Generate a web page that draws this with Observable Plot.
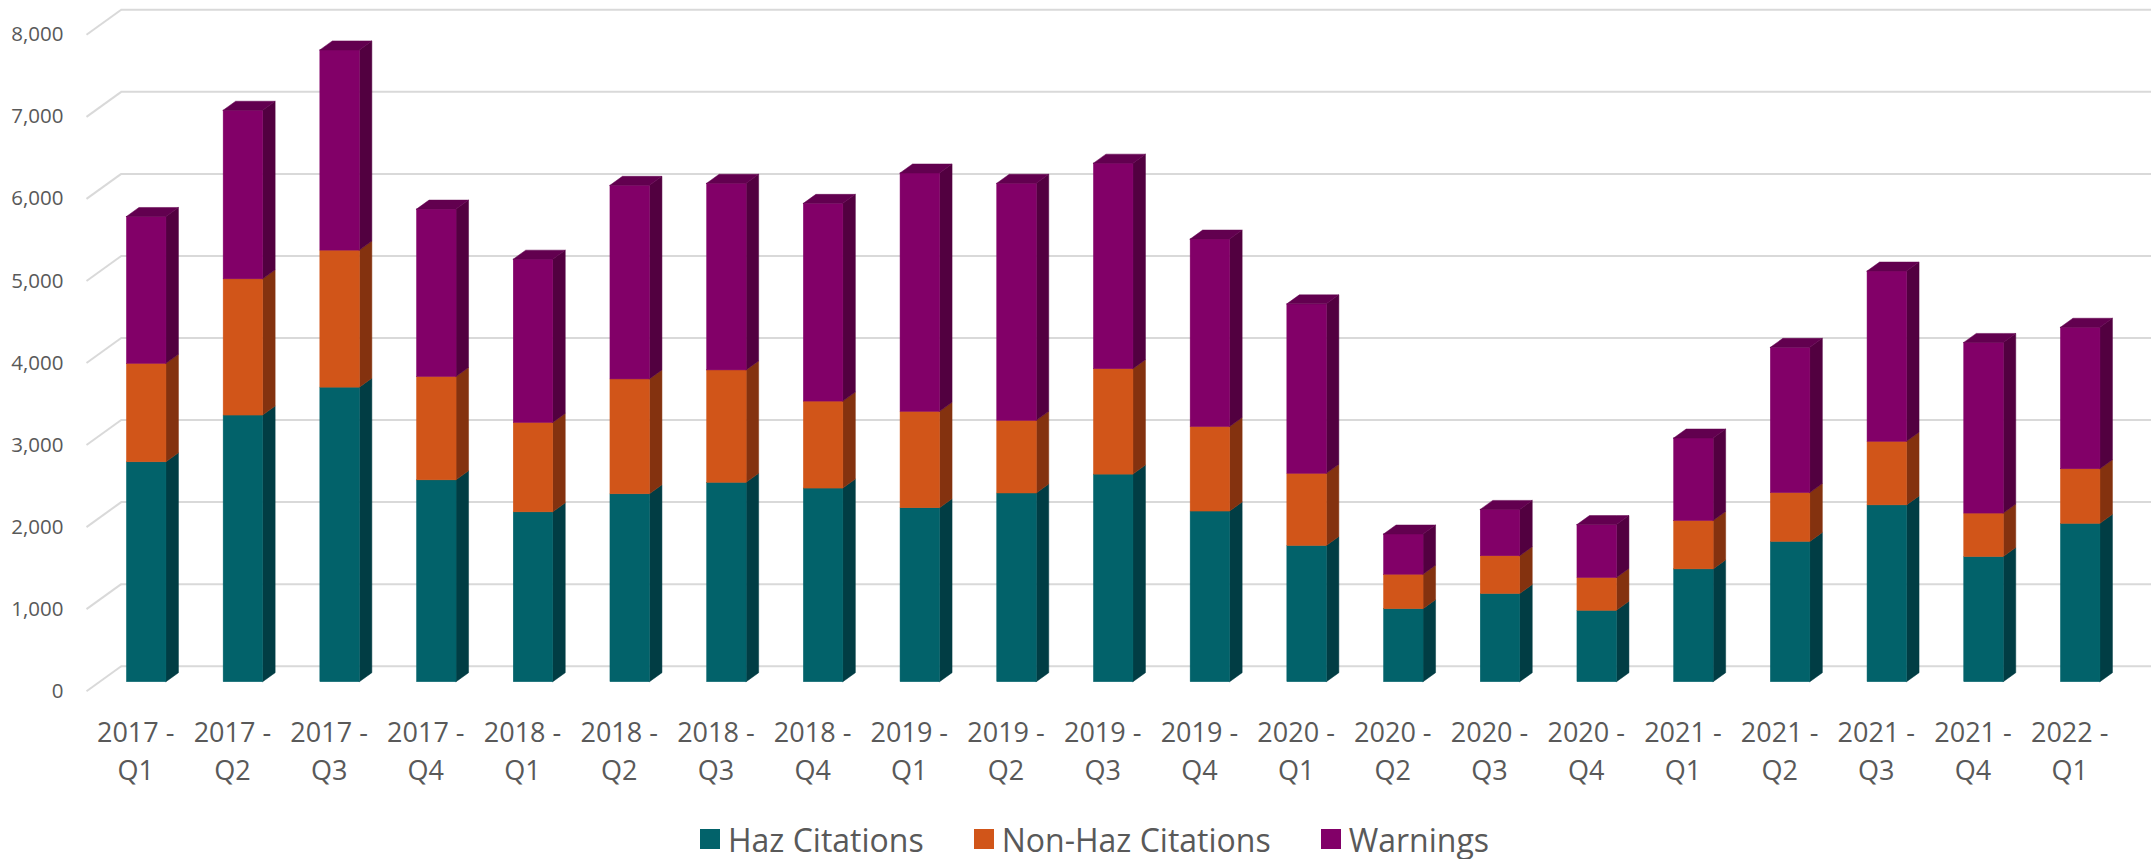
<!DOCTYPE html>
<html><head><meta charset="utf-8">
<script src="https://cdn.jsdelivr.net/npm/d3@7"></script>
<script src="https://cdn.jsdelivr.net/npm/@observablehq/plot@0.6"></script>
<style>
body{margin:0;background:#fff;width:2151px;height:859px;overflow:hidden;position:relative;font-family:"Open Sans",sans-serif}
#chart{position:absolute;left:0;top:0}
#legend{position:absolute;left:0;top:818px;width:2151px;height:42px;display:flex;justify-content:center;align-items:center;padding-left:38px;box-sizing:border-box;gap:50px;color:#595959;font-size:32px}
.item{display:flex;align-items:center;gap:8px;white-space:nowrap}
.sw{width:20px;height:20px;display:inline-block}
</style></head><body>
<div id="chart"></div>
<div id="legend"></div>
<script>
// ---- data ----
const quarters = ["2017 -\nQ1","2017 -\nQ2","2017 -\nQ3","2017 -\nQ4","2018 -\nQ1","2018 -\nQ2","2018 -\nQ3","2018 -\nQ4","2019 -\nQ1","2019 -\nQ2","2019 -\nQ3","2019 -\nQ4","2020 -\nQ1","2020 -\nQ2","2020 -\nQ3","2020 -\nQ4","2021 -\nQ1","2021 -\nQ2","2021 -\nQ3","2021 -\nQ4","2022 -\nQ1"];
const hazCitations    = [2680,3250,3590,2460,2070,2290,2430,2360,2120,2300,2530,2080,1660, 890,1075, 870,1375,1710,2155,1525,1930];
const nonHazCitations = [1200,1660,1670,1260,1090,1400,1370,1060,1175, 885,1285,1030, 880, 420, 460, 400, 590, 595, 775, 530, 665];
const warnings        = [1790,2055,2440,2040,1990,2360,2275,2410,2905,2890,2505,2285,2065, 490, 565, 645,1005,1770,2075,2080,1725];
const seriesNames = ["Haz Citations","Non-Haz Citations","Warnings"];
const yTicks = [0,1000,2000,3000,4000,5000,6000,7000,8000];

// ---- styling ----
const frontColors = ["#02626A","#D15519","#820068"];
const sideColors  = ["#013D44","#84320F","#520040"];
const topColor = "#62004F";
const gridColor = "#D9D9D9";
const textColor = "#595959";

// ---- geometry (oblique 3D look) ----
const W = 2151, H = 800;
const mLeft = 86, mTop = 25.3, mBottom = H - 681.7;
const pxPerX = 96.7;                       // px per category step
const pxPerV = (H - mTop - mBottom) / 8000;  // px per unit
const xMin = -(146.2 - mLeft) / pxPerX;
const xMax = xMin + (W - mLeft) / pxPerX;
const hw = 19.75 / pxPerX;                 // half bar width
const dX = 12.5 / pxPerX, dV = 9 / pxPerV; // bar depth
const backX = xMin + 34.7 / pxPerX, backV = 16 / pxPerV, frontV = 9 / pxPerV;

const series = [hazCitations, nonHazCitations, warnings];
const segs = [];
quarters.forEach((q, i) => {
  let cum = 0;
  series.forEach((arr, s) => {
    segs.push({i, s, y1: cum, y2: cum + arr[i], top: s === series.length - 1});
    cum += arr[i];
  });
});

const marks = [];
// back wall gridlines and floor stubs
marks.push(Plot.ruleY(yTicks, {y: d => d + backV, x1: backX, x2: xMax, stroke: gridColor, strokeWidth: 2}));
marks.push(Plot.link(yTicks, {x1: xMin, y1: d => d - frontV, x2: backX, y2: d => d + backV, stroke: gridColor, strokeWidth: 2}));

series.forEach((arr, s) => {
  const ss = segs.filter(d => d.s === s);
  // side faces
  const side = ss.flatMap(d => [
    {id: d.i, x: d.i + hw, lo: d.y1, hi: d.y2},
    {id: d.i, x: d.i + hw + dX, lo: d.y1 + dV, hi: d.y2 + dV}
  ]);
  marks.push(Plot.areaY(side, {x: "x", y1: "lo", y2: "hi", z: "id", fill: sideColors[s], stroke: sideColors[s], strokeWidth: 0.5, curve: "linear"}));
  // front faces
  marks.push(Plot.rect(ss, {x1: d => d.i - hw, x2: d => d.i + hw, y1: "y1", y2: "y2", fill: frontColors[s], stroke: frontColors[s], strokeWidth: 0.5}));
});
// top faces
const tops = segs.filter(d => d.top).flatMap(d => {
  const T = d.y2;
  return [
    {id: d.i, x: d.i - hw, lo: T, hi: T},
    {id: d.i, x: d.i - hw + dX, lo: T, hi: T + dV},
    {id: d.i, x: d.i + hw, lo: T, hi: T + dV},
    {id: d.i, x: d.i + hw + dX, lo: T + dV, hi: T + dV}
  ];
});
marks.push(Plot.areaY(tops, {x: "x", y1: "lo", y2: "hi", z: "id", fill: topColor, stroke: topColor, strokeWidth: 0.5, curve: "linear"}));

// axes
marks.push(Plot.axisY(yTicks, {anchor: "left", tickSize: 0, tickPadding: 23, dy: 9, tickFormat: d3.format(","), fontSize: 20.5, fill: textColor, label: null}));
marks.push(Plot.axisX(d3.range(quarters.length), {anchor: "bottom", tickSize: 0, tickPadding: 32.5, dx: -11, tickFormat: i => quarters[i], fontSize: 27, lineHeight: 1.42, fill: textColor, label: null}));

const chart = Plot.plot({
  width: W, height: H,
  marginLeft: mLeft, marginRight: 0, marginTop: mTop, marginBottom: mBottom,
  x: {type: "linear", domain: [xMin, xMax], axis: null},
  y: {domain: [0, 8000], axis: null},
  style: {fontFamily: "Open Sans", background: "#fff", overflow: "visible"},
  marks
});
document.getElementById("chart").appendChild(chart);

const legend = document.getElementById("legend");
seriesNames.forEach((n, s) => {
  const it = document.createElement("div");
  it.className = "item";
  const sw = document.createElement("span");
  sw.className = "sw"; sw.style.background = frontColors[s];
  const t = document.createElement("span");
  t.textContent = n;
  it.appendChild(sw); it.appendChild(t);
  legend.appendChild(it);
});
</script>
</body></html>
